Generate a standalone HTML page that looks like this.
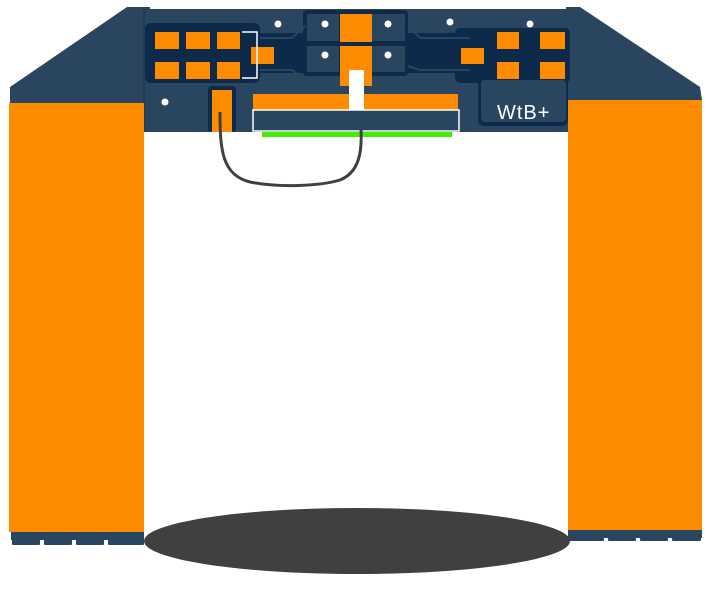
<!DOCTYPE html>
<html><head><style>html,body{margin:0;padding:0;background:#fff;}svg{display:block;}</style></head><body>
<svg width="711" height="592" viewBox="0 0 711 592" xmlns="http://www.w3.org/2000/svg">
<!-- wings -->
<polygon points="10,87 127,7 150,7 150,103 10,103" fill="#2a4560"/>
<polygon points="580,7 700,87 702,100 566,100 566,7" fill="#2a4560"/>
<!-- main board -->
<rect x="144" y="9" width="424" height="123" fill="#2a4560"/>
<line x1="144" y1="9" x2="144" y2="132" stroke="#1a3350" stroke-width="1"/>
<!-- dark copper regions -->
<rect x="145" y="23" width="115" height="60" rx="6" fill="#0e2a4a"/>
<rect x="258" y="33" width="50" height="40" fill="#0e2a4a"/>
<rect x="303" y="10" width="105" height="66" rx="4" fill="#0e2a4a"/>
<rect x="405" y="33" width="70" height="40" fill="#0e2a4a"/>
<rect x="455" y="28" width="115" height="55" rx="5" fill="#0e2a4a"/>
<rect x="478" y="72" width="90" height="54" rx="6" fill="#0e2a4a"/>
<rect x="481" y="80" width="85" height="42" rx="4" fill="#2a4560"/>
<rect x="208" y="86" width="28" height="46" rx="3" fill="#0e2a4a"/>
<!-- traces lighter lines -->
<path d="M260 38 H292 L305 26 M260 70 H292 L305 80 M408 26 L420 38 H470 M408 66 L420 70 H470" stroke="#2a4560" stroke-width="2" fill="none"/>
<!-- blue squares center -->
<rect x="307" y="14" width="32" height="27" fill="#2a4560"/>
<rect x="307" y="46" width="32" height="26" fill="#2a4560"/>
<rect x="372" y="14" width="33" height="27" fill="#2a4560"/>
<rect x="372" y="46" width="33" height="26" fill="#2a4560"/>
<!-- orange pads -->
<g fill="#ff8c00">
<rect x="340" y="14" width="32" height="28"/>
<rect x="340" y="46" width="32" height="40"/>
<rect x="155" y="32" width="24" height="17"/>
<rect x="186" y="32" width="24" height="17"/>
<rect x="217" y="32" width="23" height="17"/>
<rect x="155" y="62" width="24" height="17"/>
<rect x="186" y="62" width="24" height="17"/>
<rect x="217" y="62" width="23" height="17"/>
<rect x="251" y="47" width="23" height="17"/>
<rect x="212" y="90" width="20" height="42"/>
<rect x="461" y="48" width="23" height="16"/>
<rect x="497" y="32" width="22" height="17"/>
<rect x="497" y="62" width="22" height="17"/>
<rect x="540" y="32" width="25" height="17"/>
<rect x="540" y="62" width="25" height="17"/>
<rect x="253" y="94" width="205" height="16"/>
</g>
<path d="M242 32 H257 V78 H242" stroke="#fff" stroke-width="1.5" fill="none"/>
<rect x="349" y="70" width="15" height="40" rx="2" fill="#fff"/>
<rect x="253" y="110" width="206" height="21" fill="#2a4560" stroke="#fff" stroke-width="1.5"/>
<rect x="262" y="132" width="190" height="5" fill="#44ee00"/>
<!-- dots -->
<g fill="#fff">
<circle cx="278" cy="24" r="3.5"/><circle cx="165" cy="102" r="3.5"/><circle cx="450" cy="22" r="3.5"/>
<circle cx="530" cy="24" r="3.5"/><circle cx="388" cy="24" r="3.5"/><circle cx="388" cy="55" r="3.5"/>
<circle cx="325" cy="24" r="3.5"/><circle cx="325" cy="55" r="3.5"/>
</g>
<text x="497" y="119" font-family="Liberation Sans, sans-serif" font-size="20" fill="#fff" letter-spacing="1">WtB+</text>
<!-- wire -->
<path d="M220 112 C220 150 222 175 250 182 C280 188 320 186 340 180 C360 172 362 150 361 130" stroke="#404040" stroke-width="3" fill="none"/>
<!-- side orange -->
<rect x="9" y="103" width="135" height="429" fill="#ff8c00"/>
<rect x="568" y="100" width="134" height="430" fill="#ff8c00"/>
<!-- feet -->
<g fill="#2a4560">
<rect x="11" y="532" width="133" height="8"/>
<rect x="12" y="538" width="28" height="7" rx="1"/><rect x="44" y="538" width="28" height="7" rx="1"/><rect x="76" y="538" width="28" height="7" rx="1"/><rect x="108" y="538" width="36" height="7" rx="1"/>
<rect x="568" y="530" width="134" height="8"/>
<rect x="568" y="535" width="36" height="6" rx="1"/><rect x="608" y="535" width="28" height="6" rx="1"/><rect x="640" y="535" width="28" height="6" rx="1"/><rect x="672" y="535" width="29" height="6" rx="1"/>
</g>
<ellipse cx="357" cy="541" rx="213" ry="33" fill="#404040"/>
</svg>
</body></html>
